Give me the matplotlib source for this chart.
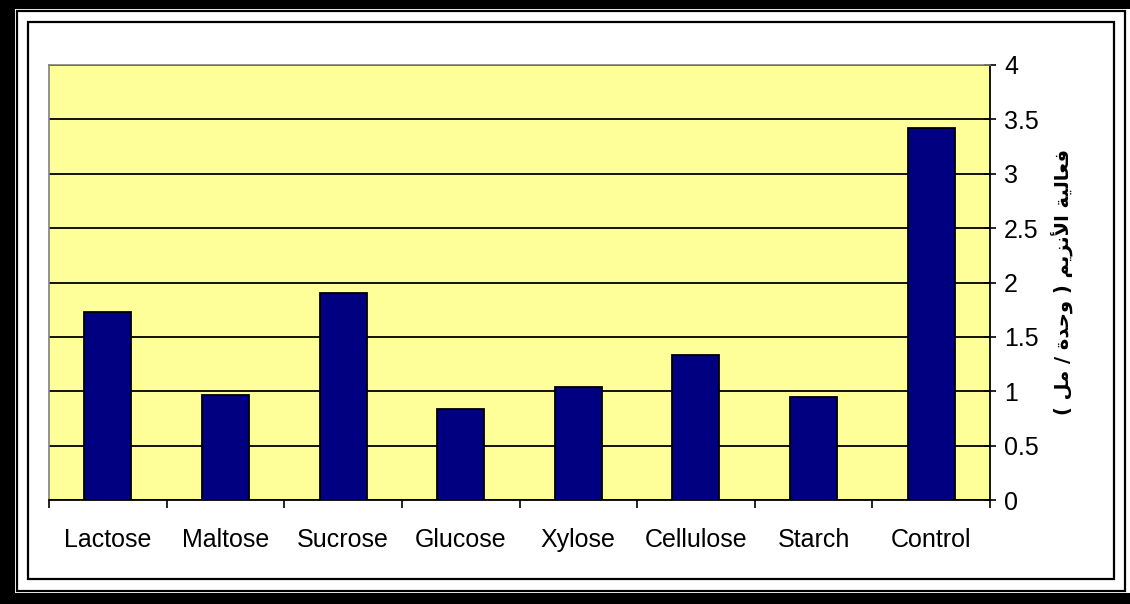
import matplotlib.pyplot as plt
from matplotlib.patches import Rectangle

# enzyme activity for each carbon source
sources = ['Lactose', 'Maltose', 'Sucrose', 'Glucose', 'Xylose',
           'Cellulose', 'Starch', 'Control']
activity = [1.73, 0.97, 1.90, 0.84, 1.04, 1.33, 0.95, 3.42]
yticks = [0, 0.5, 1, 1.5, 2, 2.5, 3, 3.5, 4]
ytick_labels = ['0', '0.5', '1', '1.5', '2', '2.5', '3', '3.5', '4']

# "فعالية الأنزيم ( وحدة / مل )" written as shaped presentation forms in visual order
ylabel_ar = ('( \uFEDE\uFEE3 / \uFE93\uFEAA\uFEA3\uFEED ) '
             '\uFEE2\uFEF3\uFEB0\uFEE7\uFEF7\uFE8D '
             '\uFE94\uFEF4\uFEDF\uFE8E\uFECC\uFED3')

W, H = 1130, 604
fig = plt.figure(figsize=(W / 100, H / 100), dpi=100, facecolor='black')


def box(x0, y0, x1, y1, **kw):
    # rectangle given in pixel coords measured from the top-left corner
    r = Rectangle((x0 / W, 1 - y1 / H), (x1 - x0) / W, (y1 - y0) / H,
                  transform=fig.transFigure, zorder=-5, **kw)
    fig.patches.append(r)


# double frame around the chart
box(15, 9, W + 5, 593, facecolor='white', edgecolor='none')
box(17, 11, 1125, 591, facecolor='none', edgecolor='black', linewidth=1.6)
box(28, 22, 1114, 579, facecolor='none', edgecolor='black', linewidth=1.6)

ax = fig.add_axes([49 / W, 1 - 500 / H, 941 / W, 435 / H])
ax.set_facecolor('#FFFF99')

x = range(len(sources))
ax.bar(x, activity, width=0.4, color='#000080', edgecolor='black',
       linewidth=1.3, zorder=3)

ax.set_xlim(-0.5, len(sources) - 0.5)
ax.set_ylim(0, 4)
ax.set_yticks(yticks)
ax.set_yticklabels(ytick_labels)
ax.yaxis.tick_right()
ax.grid(axis='y', color='black', linewidth=1.3, zorder=1)
ax.set_axisbelow(True)

ax.set_xticks([i - 0.5 for i in range(len(sources) + 1)])
ax.set_xticklabels([])
ax.set_xticks(list(x), minor=True)
ax.set_xticklabels(sources, minor=True)
ax.tick_params(axis='x', which='major', direction='out', length=6,
               width=1.2, color='black')
ax.tick_params(axis='x', which='minor', length=0, pad=20)
ax.tick_params(axis='y', direction='inout', length=8, width=1.2,
               pad=6, right=True, left=False)

for lbl in ax.get_xticklabels(minor=True) + ax.get_yticklabels():
    lbl.set_fontfamily('Liberation Sans')
    lbl.set_fontsize(18)

for side in ['left', 'top']:
    ax.spines[side].set_color('#808080')
    ax.spines[side].set_linewidth(1.2)
for side in ['right', 'bottom']:
    ax.spines[side].set_color('black')
    ax.spines[side].set_linewidth(1.3)

fig.text(1063 / W, 1 - 282 / H, ylabel_ar, rotation=90, ha='center',
         va='center', fontsize=14, fontweight='bold',
         family=['DejaVu Sans'])

fig.savefig('out.png', dpi=100, facecolor='black')
